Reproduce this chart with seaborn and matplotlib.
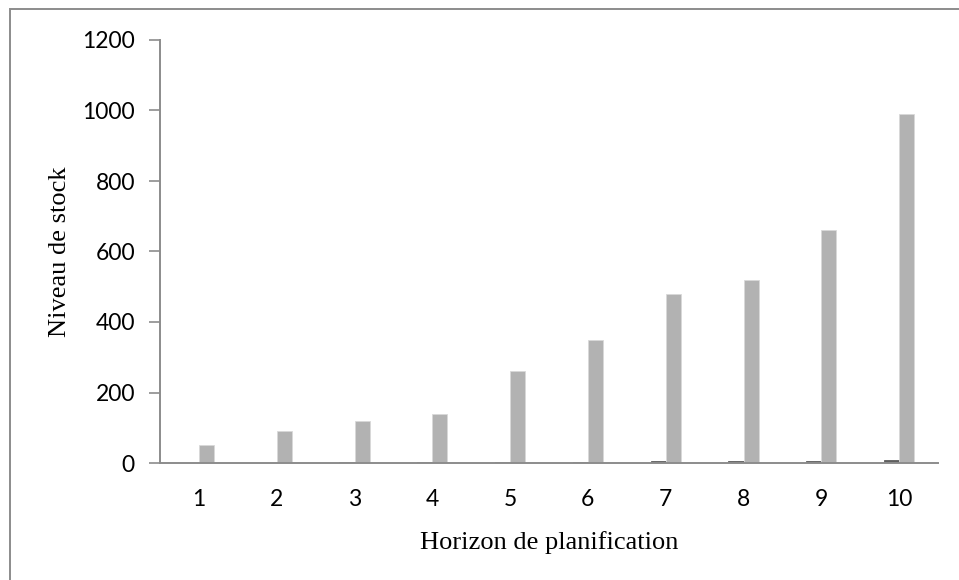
import pandas as pd
import seaborn as sns
import matplotlib.pyplot as plt
from matplotlib.patches import Rectangle

sns.set_theme(style="white")

horizons = ['1', '2', '3', '4', '5', '6', '7', '8', '9', '10']
stock_a = [0.3, 0.5, 1.5, 2.5, 3, 4, 5, 6, 7, 9]
stock_b = [50, 90, 120, 140, 260, 350, 480, 520, 660, 990]

df = pd.DataFrame({
	'horizon': horizons * 2,
	'stock': stock_a + stock_b,
	'serie': ['A'] * len(horizons) + ['B'] * len(horizons),
})

fig = plt.figure(figsize=(9.59, 5.80), dpi=100)
ax = fig.add_axes([160 / 959, 1 - 463 / 580, 778 / 959, 423 / 580])

sns.barplot(
	data=df, x='horizon', y='stock', hue='serie',
	palette=['#5f5f5f', '#b2b2b2'], width=0.39, dodge=True,
	edgecolor='#d9d9d9', linewidth=0.6, legend=False, ax=ax)

# barres sombres sans bordure claire
for bar in ax.patches[:len(horizons)]:
	bar.set_edgecolor('#5f5f5f')

ax.set_ylim(0, 1200)
ax.set_xlim(-0.5, 9.5)
ax.set_yticks(range(0, 1201, 200))

for side in ['top', 'right']:
	ax.spines[side].set_visible(False)
for side in ['left', 'bottom']:
	ax.spines[side].set_color('#8c8c8c')
	ax.spines[side].set_linewidth(1.4)

ax.tick_params(axis='y', left=True, length=8, width=1.2, color='#8c8c8c', pad=10)
ax.tick_params(axis='x', bottom=False, pad=13)
for lbl in ax.get_xticklabels() + ax.get_yticklabels():
	lbl.set_fontfamily('Lato')
	lbl.set_fontsize(16.5)
	lbl.set_color('black')

ax.set_xlabel('Horizon de planification', fontfamily='Liberation Serif', fontsize=19, color='black', labelpad=15)
ax.set_ylabel('Niveau de stock', fontfamily='Liberation Serif', fontsize=19, color='black', labelpad=8)

# cadre du graphique
fig.patches.append(Rectangle((10 / 959, -0.05), 1.2, 1 - 9 / 580 + 0.05,
	transform=fig.transFigure, fill=False, edgecolor='#8c8c8c', linewidth=1.4))

fig.savefig('out.png', dpi=100)
